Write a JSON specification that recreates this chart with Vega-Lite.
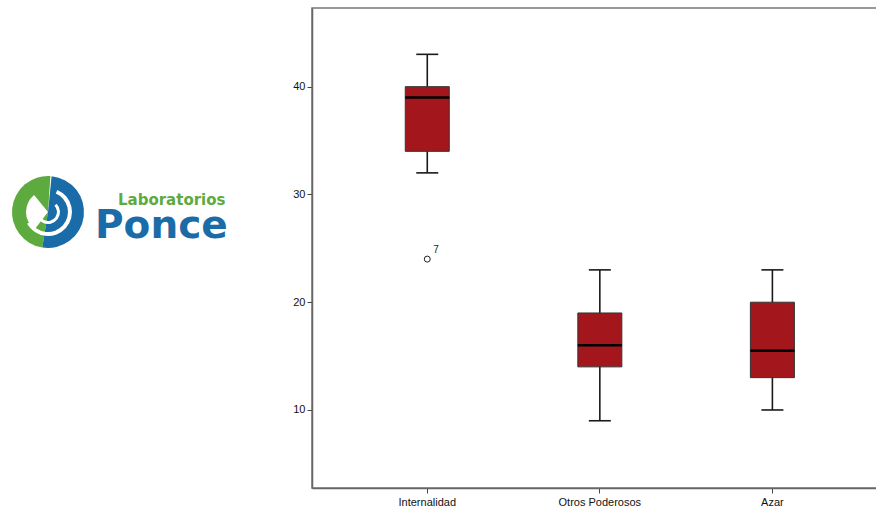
{
  "$schema": "https://vega.github.io/schema/vega-lite/v6.json",
  "background": "white",
  "padding": {"left": 0, "top": 7, "right": 0, "bottom": 0},
  "spacing": 12,
  "config": {
    "font": "Liberation Sans",
    "view": {"stroke": null},
    "axis": {
      "domainColor": "#666666",
      "domainWidth": 1.5,
      "tickColor": "#444444",
      "tickWidth": 1,
      "tickSize": 5,
      "labelColor": "#111111",
      "labelFont": "Liberation Sans",
      "labelFontSize": 11,
      "grid": false,
      "title": null
    }
  },
  "datasets": {
    "boxes": [
      {"group": "Internalidad", "lower": 32, "q1": 34, "median": 39, "q3": 40, "upper": 43},
      {"group": "Otros Poderosos", "lower": 9, "q1": 14, "median": 16, "q3": 19, "upper": 23},
      {"group": "Azar", "lower": 10, "q1": 13, "median": 15.5, "q3": 20, "upper": 23}
    ],
    "outliers": [
      {"group": "Internalidad", "value": 24, "case": "7"}
    ],
    "logoIcon": [{"lx": 48, "ly": 204}],
    "logoTop": [{"lx": 118, "ly": 197, "word": "Laboratorios"}],
    "logoMain": [{"lx": 95, "ly": 230, "word": "Ponce"}]
  },
  "hconcat": [
    {
      "width": 280,
      "height": 480,
      "view": {"stroke": null},
      "layer": [
        {
          "data": {"name": "logoIcon"},
          "mark": {"type": "arc", "theta": 3.3, "theta2": 6.35, "radius": 36, "radius2": 0, "fill": "#5DAA3F"},
          "encoding": {
            "x": {"field": "lx", "type": "quantitative", "scale": {"domain": [0, 280], "nice": false, "zero": false}, "axis": null},
            "y": {"field": "ly", "type": "quantitative", "scale": {"domain": [0, 480], "nice": false, "zero": false, "reverse": true}, "axis": null}
          }
        },
        {
          "data": {"name": "logoIcon"},
          "mark": {"type": "arc", "theta": 0.1, "theta2": 3.3, "radius": 36, "radius2": 0, "fill": "#1A6CA8"},
          "encoding": {
            "x": {"field": "lx", "type": "quantitative", "scale": {"domain": [0, 280], "nice": false, "zero": false}, "axis": null},
            "y": {"field": "ly", "type": "quantitative", "scale": {"domain": [0, 480], "nice": false, "zero": false, "reverse": true}, "axis": null}
          }
        },
        {
          "data": {"name": "logoIcon"},
          "mark": {"type": "arc", "theta": 3.8, "theta2": 5.6, "radius": 22, "radius2": 0, "fill": "white"},
          "encoding": {
            "x": {"field": "lx", "type": "quantitative", "scale": {"domain": [0, 280], "nice": false, "zero": false}, "axis": null},
            "y": {"field": "ly", "type": "quantitative", "scale": {"domain": [0, 480], "nice": false, "zero": false, "reverse": true}, "axis": null}
          }
        },
        {
          "data": {"name": "logoIcon"},
          "mark": {"type": "arc", "theta": 0.4, "theta2": 4.2, "radius": 24, "radius2": 20, "fill": "white"},
          "encoding": {
            "x": {"field": "lx", "type": "quantitative", "scale": {"domain": [0, 280], "nice": false, "zero": false}, "axis": null},
            "y": {"field": "ly", "type": "quantitative", "scale": {"domain": [0, 480], "nice": false, "zero": false, "reverse": true}, "axis": null}
          }
        },
        {
          "data": {"name": "logoIcon"},
          "mark": {"type": "arc", "theta": 0.8, "theta2": 5.0, "radius": 12, "radius2": 9, "fill": "white"},
          "encoding": {
            "x": {"field": "lx", "type": "quantitative", "scale": {"domain": [0, 280], "nice": false, "zero": false}, "axis": null},
            "y": {"field": "ly", "type": "quantitative", "scale": {"domain": [0, 480], "nice": false, "zero": false, "reverse": true}, "axis": null}
          }
        },
        {
          "data": {"name": "logoTop"},
          "mark": {"type": "text", "align": "left", "baseline": "alphabetic", "font": "DejaVu Sans", "fontWeight": "bold", "fontSize": 15, "color": "#5DAA3F"},
          "encoding": {
            "x": {"field": "lx", "type": "quantitative", "scale": {"domain": [0, 280], "nice": false, "zero": false}, "axis": null},
            "y": {"field": "ly", "type": "quantitative", "scale": {"domain": [0, 480], "nice": false, "zero": false, "reverse": true}, "axis": null},
            "text": {"field": "word"}
          }
        },
        {
          "data": {"name": "logoMain"},
          "mark": {"type": "text", "align": "left", "baseline": "alphabetic", "font": "DejaVu Sans", "fontWeight": "bold", "fontSize": 39, "color": "#1A6CA8"},
          "encoding": {
            "x": {"field": "lx", "type": "quantitative", "scale": {"domain": [0, 280], "nice": false, "zero": false}, "axis": null},
            "y": {"field": "ly", "type": "quantitative", "scale": {"domain": [0, 480], "nice": false, "zero": false, "reverse": true}, "axis": null},
            "text": {"field": "word"}
          }
        }
      ]
    },
    {
      "width": 566,
      "height": 480,
      "view": {"stroke": "#777777", "strokeWidth": 1.5},
      "encoding": {
        "x": {
          "field": "group",
          "type": "nominal",
          "sort": ["Internalidad", "Otros Poderosos", "Azar"],
          "scale": {"paddingInner": 0, "paddingOuter": 0.14, "align": 0.6},
          "axis": {"title": null, "labelAngle": 0, "labelPadding": 3, "ticks": true}
        }
      },
      "layer": [
        {
          "data": {"name": "boxes"},
          "mark": {"type": "rule", "color": "#1a1a1a", "strokeWidth": 1.6},
          "encoding": {
            "y": {"field": "lower", "type": "quantitative", "scale": {"domain": [2.76, 47.3], "nice": false, "zero": false}, "axis": {"title": null, "values": [10, 20, 30, 40], "labelPadding": 2}},
            "y2": {"field": "upper"}
          }
        },
        {
          "data": {"name": "boxes"},
          "mark": {"type": "bar", "size": 44, "fill": "#A3171C", "stroke": "#333333", "strokeWidth": 1},
          "encoding": {
            "y": {"field": "q1", "type": "quantitative"},
            "y2": {"field": "q3"}
          }
        },
        {
          "data": {"name": "boxes"},
          "mark": {"type": "tick", "size": 44, "thickness": 2.5, "color": "#000000", "opacity": 1},
          "encoding": {
            "y": {"field": "median", "type": "quantitative"}
          }
        },
        {
          "data": {"name": "boxes"},
          "mark": {"type": "tick", "size": 22, "thickness": 1.6, "color": "#1a1a1a", "opacity": 1},
          "encoding": {
            "y": {"field": "lower", "type": "quantitative"}
          }
        },
        {
          "data": {"name": "boxes"},
          "mark": {"type": "tick", "size": 22, "thickness": 1.6, "color": "#1a1a1a", "opacity": 1},
          "encoding": {
            "y": {"field": "upper", "type": "quantitative"}
          }
        },
        {
          "data": {"name": "outliers"},
          "mark": {"type": "point", "shape": "circle", "filled": false, "size": 36, "stroke": "#222222", "strokeWidth": 1, "opacity": 1},
          "encoding": {
            "y": {"field": "value", "type": "quantitative"}
          }
        },
        {
          "data": {"name": "outliers"},
          "mark": {"type": "text", "align": "left", "baseline": "middle", "dx": 6, "dy": -9, "fontSize": 10, "color": "#222222"},
          "encoding": {
            "y": {"field": "value", "type": "quantitative"},
            "text": {"field": "case"}
          }
        }
      ]
    }
  ]
}
